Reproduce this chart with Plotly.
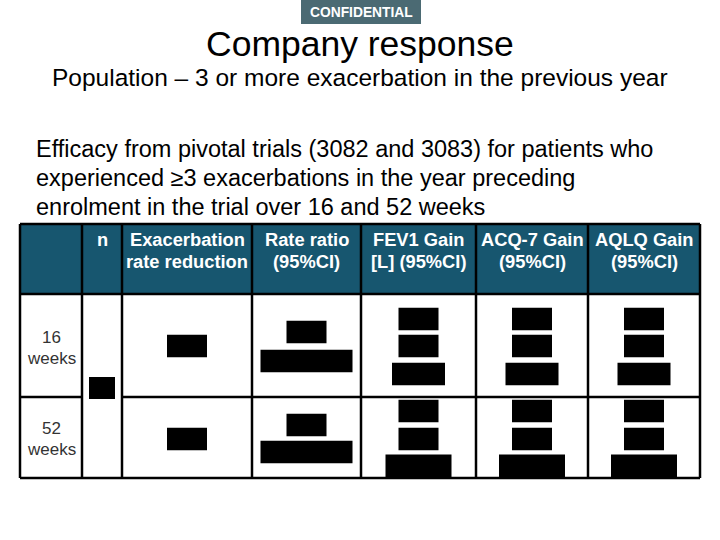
import plotly.graph_objects as go

# textos do slide
badge = "CONFIDENTIAL"
titulo = "Company response"
subtitulo = "Population \u2013 3 or more exacerbation in the previous year"
corpo = [
    "Efficacy from pivotal trials (3082 and 3083) for patients who",
    "experienced \u22653 exacerbations in the year preceding",
    "enrolment in the trial over 16 and 52 weeks",
]

# tabela
colunas = ["", "n", "Exacerbation<br>rate reduction", "Rate ratio<br>(95%CI)",
           "FEV1 Gain<br>[L] (95%CI)", "ACQ-7 Gain<br>(95%CI)", "AQLQ Gain<br>(95%CI)"]
linhas = ["16<br>weeks", "52<br>weeks"]

# valores tarjados (larguras das tarjas pretas em cada celula, de cima p/ baixo)
tarjas_16 = {2: [40], 3: [40, 92], 4: [40, 40, 53], 5: [40, 40, 53], 6: [40, 40, 53]}
tarjas_52 = {2: [40], 3: [40, 92], 4: [40, 40, 66], 5: [40, 40, 66], 6: [40, 40, 66]}
tarja_n = 26

# geometria (coordenadas do slide, 720x540)
bordas_x = [20, 82, 122, 252, 361, 476, 588, 700]
bordas_y = [224, 294, 397, 478]
TEAL = "#17566f"
FONTE = "Liberation Sans, Arial, sans-serif"

fig = go.Figure()
fig.add_trace(go.Scatter(x=[0, 720], y=[0, 540], mode="markers",
                         marker=dict(opacity=0), hoverinfo="skip", showlegend=False))

shapes = []
annots = []

def rect(x0, x1, y0, y1, cor, linha=None, w=0):
    shapes.append(dict(type="rect", xref="x", yref="y", x0=x0, x1=x1, y0=y0, y1=y1,
                       fillcolor=cor, line=dict(color=linha or cor, width=w), layer="below"))

def texto(x, y, t, size, cor="black", xanchor="center", bold=False):
    annots.append(dict(x=x, y=y, xref="x", yref="y", text=f"<b>{t}</b>" if bold else t,
                       showarrow=False, xanchor=xanchor, yanchor="middle",
                       font=dict(family=FONTE, size=size, color=cor)))

# selo confidencial
rect(301, 421, -2, 24, "#4b6a73")
texto(361, 12, badge, 13.8, "white", bold=True)

# titulos
texto(360, 44, titulo, 35.5)
texto(360, 77, subtitulo, 24.5)
for i, l in enumerate(corpo):
    texto(34, 149 + i * 29, l, 23.5, xanchor="left")

# cabecalho
rect(bordas_x[0], bordas_x[-1], bordas_y[0], bordas_y[1], TEAL)
for j, c in enumerate(colunas):
    xc = (bordas_x[j] + bordas_x[j + 1]) / 2
    partes = c.split("<br>")
    for k, p in enumerate(partes):
        if p:
            texto(xc, 239 + k * 22, p, 18.3, "white", bold=True)

# rotulos das linhas
for i, r in enumerate(linhas):
    yc = [347, 438][i]
    a, b = r.split("<br>")
    texto(51, yc - 10, a, 17, "#333333")
    texto(51, yc + 11, b, 17, "#333333")

# tarjas
centros_16 = {1: [346], 2: [332, 361], 3: [319, 346, 374]}
centros_52 = {1: [439], 2: [425, 452], 3: [411, 439, 466]}
for tarjas, centros in [(tarjas_16, centros_16), (tarjas_52, centros_52)]:
    for j, ws in tarjas.items():
        xc = (bordas_x[j] + bordas_x[j + 1]) / 2
        for w, yc in zip(ws, centros[len(ws)]):
            h = 23 if len(ws) == 3 and w > 60 and yc > 460 else 22.5
            rect(xc - w / 2, xc + w / 2, yc - h / 2, yc + h / 2, "black")
xn = (bordas_x[1] + bordas_x[2]) / 2
rect(xn - tarja_n / 2, xn + tarja_n / 2, 377, 399, "black")

# grade
lw = 2.5
def linha(x0, y0, x1, y1):
    shapes.append(dict(type="line", xref="x", yref="y", x0=x0, y0=y0, x1=x1, y1=y1,
                       line=dict(color="black", width=lw)))
for x in bordas_x:
    linha(x, bordas_y[0], x, bordas_y[-1])
for y in [bordas_y[0], bordas_y[1], bordas_y[-1]]:
    linha(bordas_x[0], y, bordas_x[-1], y)
# linha do meio nao cruza a coluna n (celula mesclada)
linha(bordas_x[0], bordas_y[2], bordas_x[1], bordas_y[2])
linha(bordas_x[2], bordas_y[2], bordas_x[-1], bordas_y[2])

fig.update_layout(
    width=720, height=540,
    margin=dict(l=0, r=0, t=0, b=0),
    paper_bgcolor="white", plot_bgcolor="white",
    xaxis=dict(range=[0, 720], visible=False, fixedrange=True),
    yaxis=dict(range=[540, 0], visible=False, fixedrange=True),
    shapes=shapes, annotations=annots,
)

fig.write_html("out.html", config={"displayModeBar": False},
               post_script="document.body.style.margin='0';")
